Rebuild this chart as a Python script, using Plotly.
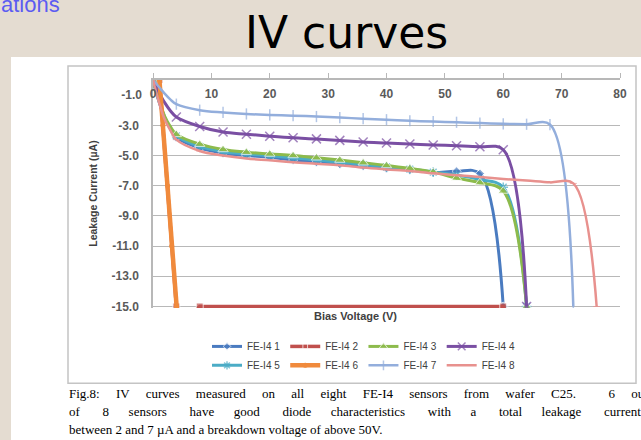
import plotly.graph_objects as go

# ---------------- data ----------------
volt_fe1 = [0, 1, 2, 3, 4, 8, 12, 16, 20, 24, 28, 32, 36, 40, 44, 48, 52, 56, 60]
cur_fe1 = [0, -1.4, -2.5, -3.25, -3.8, -4.5, -4.85, -5.0, -5.12, -5.3, -5.45, -5.58,
           -5.7, -5.85, -5.95, -6.12, -6.05, -6.2, -15]

volt_fe2 = [1.1, 4.0, 5.5, 8, 60, 61]
cur_fe2 = [0, -15, -16, -15, -15, -16]

volt_fe3 = [0, 1, 2, 3, 4, 8, 12, 16, 20, 24, 28, 32, 36, 40, 44, 48, 52, 56, 60, 64]
cur_fe3 = [0, -1.3, -2.4, -3.1, -3.6, -4.25, -4.6, -4.78, -4.9, -5.0, -5.15, -5.3,
           -5.48, -5.66, -5.85, -6.1, -6.5, -6.8, -7.35, -15]

volt_fe4 = [0, 1, 2, 3, 4, 8, 12, 16, 20, 24, 28, 32, 36, 40, 44, 48, 52, 56, 60, 64]
cur_fe4 = [0, -0.8, -1.5, -2.05, -2.45, -3.08, -3.45, -3.59, -3.72, -3.83, -3.9, -4.0,
           -4.1, -4.17, -4.24, -4.3, -4.35, -4.42, -4.62, -15]

volt_fe5 = [0, 1, 2, 3, 4, 8, 12, 16, 20, 24, 28, 32, 36, 40, 44, 48, 52, 56, 60, 64]
cur_fe5 = [0, -1.35, -2.45, -3.2, -3.7, -4.4, -4.75, -4.9, -5.02, -5.15, -5.3, -5.45,
           -5.6, -5.76, -5.9, -6.1, -6.3, -6.6, -7.1, -15]

volt_fe6 = [1.1, 1.7, 2.5, 3.2, 4.05]
cur_fe6 = [0, -3, -7, -11, -15]

volt_fe7 = [0, 1, 2, 3, 4, 8, 12, 16, 20, 24, 28, 32, 36, 40, 44, 48, 52, 56, 60, 64, 68, 72]
cur_fe7 = [0, -0.45, -0.9, -1.3, -1.6, -2.0, -2.15, -2.25, -2.31, -2.36, -2.42, -2.49,
           -2.56, -2.63, -2.7, -2.75, -2.8, -2.85, -2.9, -2.93, -2.95, -15]

volt_fe8 = [0, 1, 2, 3, 4, 8, 12, 16, 20, 24, 28, 32, 36, 40, 44, 48, 52, 56, 60, 64, 68, 72, 76]
cur_fe8 = [0, -1.45, -2.6, -3.35, -3.95, -4.7, -5.0, -5.2, -5.32, -5.45, -5.55, -5.65,
           -5.8, -5.92, -6.03, -6.18, -6.3, -6.43, -6.55, -6.66, -6.78, -6.85, -15]

series_names = ["FE-I4 1", "FE-I4 2", "FE-I4 3", "FE-I4 4",
                "FE-I4 5", "FE-I4 6", "FE-I4 7", "FE-I4 8"]

x_ticks = [0, 10, 20, 30, 40, 50, 60, 70, 80]
y_ticks_grid = [-3, -5, -7, -9, -11, -13, -15]
y_text_grid = ["-3.0", "-5.0", "-7.0", "-9.0", "-11.0", "-13.0", "-15.0"]
y_tick_top = [-1]
y_text_top = ["-1.0"]

title_text = "IV curves"
x_title = "Bias Voltage (V)"
y_title = "Leakage Current (µA)"
caption_words = [
    "Fig.8: IV curves measured on all eight FE-I4 sensors from wafer C25.  6 out".split(" "),
    "of 8 sensors have good diode characteristics with a total leakage current".split(" "),
    "between 2 and 7 µA and a breakdown voltage of above 50V.".split(" "),
]
# spaces per word gap, alternating, to imitate the justified paragraph
caption_gap_pairs = [(5, 5), (7, 6), (1, 1)]

# ---------------- layout geometry (pixels) ----------------
W, H = 641, 440
L, R, T, B = 153, 620, 80, 308.5


def px(x):
    return (x - L) / (R - L)


def py(y):
    return (B - y) / (B - T)


def msizes(volts, size):
    return [size if (v % 4 == 0) else 0 for v in volts]


def justify(words, pair):
    out = words[0]
    for k, w in enumerate(words[1:]):
        out += " " * pair[k % 2] + w
    return out


fig = go.Figure()

common = dict(mode="lines+markers", line_shape="spline")

# FE-I4 1
fig.add_trace(go.Scatter(x=volt_fe1, y=cur_fe1, name=series_names[0], legend="legend",
                         line=dict(color="#4A7BC0", width=3, smoothing=1),
                         marker=dict(symbol="diamond", size=msizes(volt_fe1, 7), color="#4A7BC0"),
                         **common))
# FE-I4 2
fig.add_trace(go.Scatter(x=volt_fe2, y=cur_fe2, name=series_names[1], legend="legend",
                         mode="lines+markers",
                         line=dict(color="#C0504D", width=3.5),
                         marker=dict(symbol="square", size=[7, 7, 0, 7, 7, 0], color="#C0504D")))
# FE-I4 5 (drawn under FE-I4 3)
fig.add_trace(go.Scatter(x=volt_fe5, y=cur_fe5, name=series_names[4], legend="legend2",
                         line=dict(color="#4BACC6", width=3, smoothing=1),
                         marker=dict(symbol="asterisk-open", size=msizes(volt_fe5, 8),
                                     line=dict(color="#4BACC6", width=1.5)),
                         **common))
# FE-I4 3
fig.add_trace(go.Scatter(x=volt_fe3, y=cur_fe3, name=series_names[2], legend="legend",
                         line=dict(color="#8DBB4C", width=3, smoothing=1),
                         marker=dict(symbol="triangle-up", size=msizes(volt_fe3, 9), color="#8DBB4C"),
                         **common))
# FE-I4 4
fig.add_trace(go.Scatter(x=volt_fe4, y=cur_fe4, name=series_names[3], legend="legend",
                         line=dict(color="#7A4FA3", width=3, smoothing=1),
                         marker=dict(symbol="x-thin-open", size=msizes(volt_fe4, 9),
                                     line=dict(color="#7A4FA3", width=1.5)),
                         **common))
# FE-I4 6
fig.add_trace(go.Scatter(x=volt_fe6, y=cur_fe6, name=series_names[5], legend="legend2",
                         mode="lines+markers",
                         line=dict(color="#F08A3C", width=4.5),
                         marker=dict(symbol="circle", size=5, color="#F08A3C")))
# FE-I4 7
fig.add_trace(go.Scatter(x=volt_fe7, y=cur_fe7, name=series_names[6], legend="legend2",
                         line=dict(color="#93AEDC", width=2.5, smoothing=1),
                         marker=dict(symbol="line-ns-open", size=msizes(volt_fe7, 8),
                                     line=dict(color="#93AEDC", width=1.5)),
                         **common))
# FE-I4 8
fig.add_trace(go.Scatter(x=volt_fe8, y=cur_fe8, name=series_names[7], legend="legend2",
                         line=dict(color="#E8918E", width=2.5, smoothing=1),
                         marker=dict(symbol="line-ew-open", size=msizes(volt_fe8, 5),
                                     line=dict(color="#E8918E", width=1)),
                         **common))

axis_gray = "#B8B8B8"
tick_font = dict(family="Liberation Sans", size=12, color="#5A5A5A", weight="bold")
legend_font = dict(family="Liberation Sans", size=10, color="#404040")

fig.update_layout(
    width=W, height=H,
    margin=dict(l=L, r=W - R, t=T, b=H - B, pad=0),
    paper_bgcolor="#E4DCD1",
    plot_bgcolor="white",
    showlegend=True,
    xaxis=dict(
        range=[0, 80], side="top", tickmode="array", tickvals=x_ticks,
        ticks="outside", ticklen=5, tickcolor=axis_gray, tickwidth=1,
        showline=True, linecolor=axis_gray, linewidth=1.5,
        showgrid=False, zeroline=False,
        ticklabelposition="inside", ticklabeloverflow="allow",
        ticklabelstandoff=9,
        tickfont=tick_font, fixedrange=True,
    ),
    yaxis=dict(
        range=[-15.1, 0], tickmode="array", tickvals=y_ticks_grid, ticktext=y_text_grid,
        ticks="", showline=True, linecolor=axis_gray, linewidth=1.5,
        showgrid=True, gridcolor=axis_gray, gridwidth=1.2, zeroline=False,
        ticklabelstandoff=10, tickfont=tick_font,
    ),
    yaxis2=dict(
        range=[-15.1, 0], overlaying="y", side="left", tickmode="array",
        tickvals=y_tick_top, ticktext=y_text_top, ticks="", showgrid=False,
        showline=False, zeroline=False, ticklabelstandoff=10, tickfont=tick_font,
    ),
    legend=dict(orientation="h", x=px(207), xanchor="left", y=py(347), yanchor="middle",
                bgcolor="rgba(0,0,0,0)", itemwidth=30, font=legend_font),
    legend2=dict(orientation="h", x=px(207), xanchor="left", y=py(366), yanchor="middle",
                 bgcolor="rgba(0,0,0,0)", itemwidth=30, font=legend_font),
    shapes=[
        # white slide picture panel
        dict(type="rect", xref="paper", yref="paper", x0=px(11), x1=px(660),
             y0=py(460), y1=py(57), fillcolor="white", line=dict(width=0), layer="below"),
        # chart frame
        dict(type="rect", xref="paper", yref="paper", x0=px(68), x1=px(636),
             y0=py(384), y1=py(66), fillcolor="rgba(0,0,0,0)",
             line=dict(color="#C4C4C4", width=1.5), layer="below"),
    ],
)

# empty trace to keep the secondary y axis (for the -1.0 label) alive
fig.add_trace(go.Scatter(x=[None], y=[None], yaxis="y2", showlegend=False, hoverinfo="skip"))

annotations = [
    dict(text="ations", x=px(-1), y=py(4), xanchor="left", yanchor="middle",
         font=dict(family="Liberation Sans", size=22, color="#5C5CF2")),
    dict(text=title_text, x=px(346), y=py(32), xanchor="center", yanchor="middle",
         font=dict(family="DejaVu Sans", size=44, color="black")),
    dict(text=x_title, x=px(355), y=py(317), xanchor="center", yanchor="middle",
         font=dict(family="Liberation Sans", size=11, color="#404040", weight="bold")),
    dict(text=y_title, x=px(93), y=py(194), xanchor="center", yanchor="middle", textangle=-90,
         font=dict(family="Liberation Sans", size=10.5, color="#404040", weight="bold")),
]
for i, words in enumerate(caption_words):
    line = justify(words, caption_gap_pairs[i])
    annotations.append(dict(text=line, x=px(67), y=py(394 + 18 * i), xanchor="left",
                            yanchor="middle",
                            font=dict(family="Liberation Serif", size=13, color="black")))
for a in annotations:
    a.update(xref="paper", yref="paper", showarrow=False)
fig.update_layout(annotations=annotations)

fig.write_html("out.html")
